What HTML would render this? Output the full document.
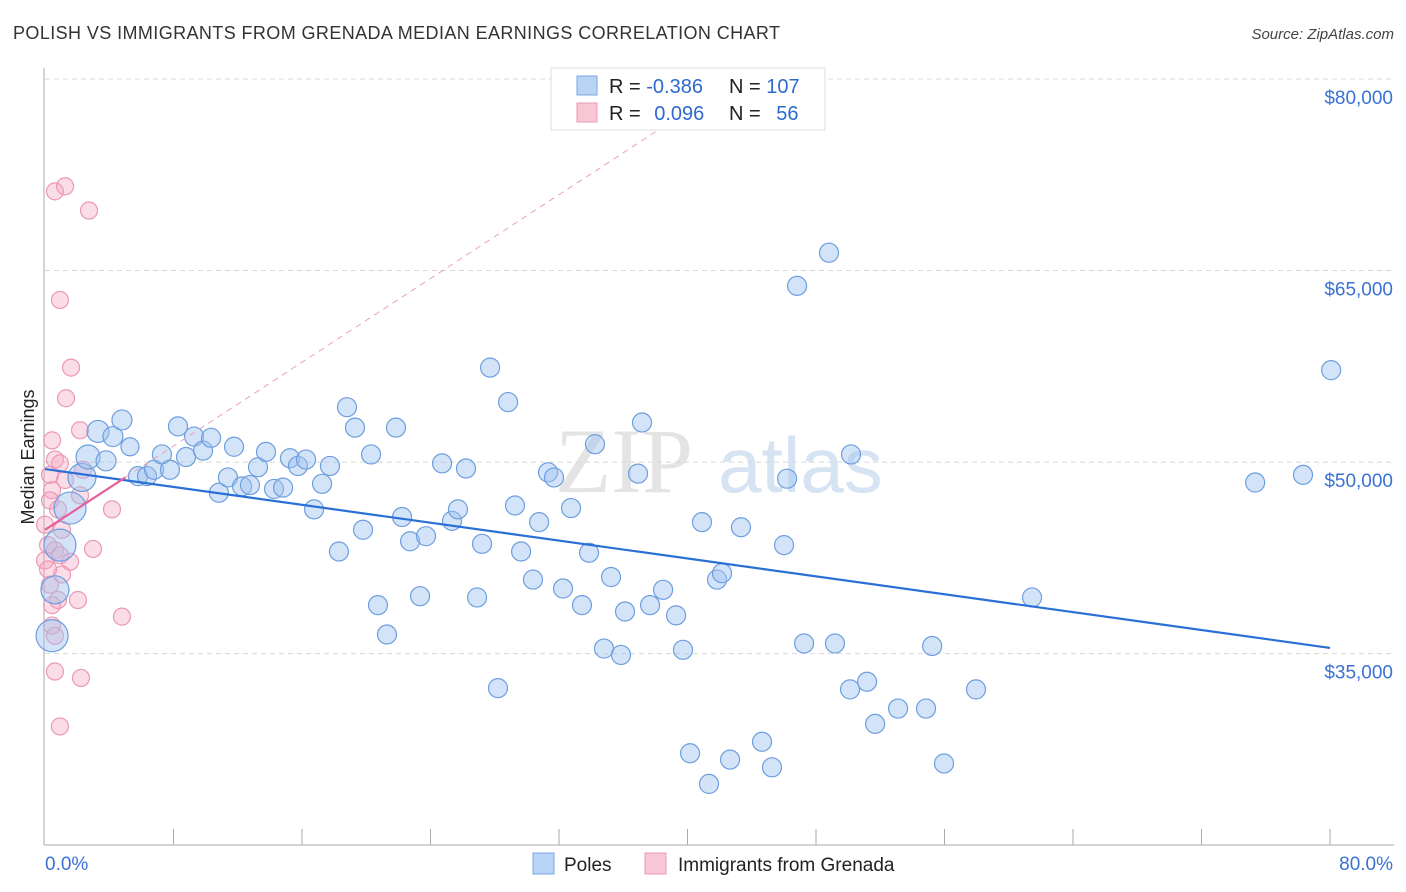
<!DOCTYPE html>
<html><head><meta charset="utf-8">
<style>
body{margin:0;background:#fff;font-family:"Liberation Sans",sans-serif;}
svg{display:block}
</style></head>
<body>
<svg id="chart" width="1406" height="892" xmlns="http://www.w3.org/2000/svg">
<text x="13" y="39" font-size="18" fill="#333" textLength="767">POLISH VS IMMIGRANTS FROM GRENADA MEDIAN EARNINGS CORRELATION CHART</text>
<text x="1394" y="39" font-size="15" font-style="italic" fill="#444" text-anchor="end">Source: ZipAtlas.com</text>
<text transform="translate(34,457) rotate(-90)" font-size="18" fill="#222" text-anchor="middle">Median Earnings</text>
<g>
<text x="555" y="492" font-size="92" font-family="Liberation Serif,serif" fill="#e4e4e4">ZIP</text>
<text x="718" y="492" font-size="78" fill="#d5e3f3">atlas</text>
</g>
<g id="grid"></g>
<g id="axes"></g>
<g id="pink"></g>
<g id="blue"></g>
<g id="lines"></g>
<g>
<rect x="551" y="68" width="274" height="62" fill="#fff" stroke="#ddd"/>
<rect x="577" y="76" width="20" height="19" fill="#b9d3f5" stroke="#7aa7e2"/>
<rect x="577" y="103" width="20" height="19" fill="#f9c6d6" stroke="#ec9ab5"/>
<text x="609" y="93" font-size="20" fill="#222">R = <tspan fill="#2d6ad0">-0.386</tspan></text>
<text x="729" y="93" font-size="20" fill="#222">N = <tspan fill="#2d6ad0">107</tspan></text>
<text x="609" y="120" font-size="20" fill="#222">R = <tspan fill="#2d6ad0" dx="8">0.096</tspan></text>
<text x="729" y="120" font-size="20" fill="#222">N = <tspan fill="#2d6ad0" dx="10">56</tspan></text>
</g>
<g>
<rect x="533" y="853" width="21" height="21" fill="#b9d3f5" stroke="#7aa7e2"/>
<text x="564" y="871" font-size="19" fill="#222">Poles</text>
</g>
<g>
<rect x="645" y="853" width="21" height="21" fill="#f9c6d6" stroke="#ec9ab5"/>
<text x="678" y="871" font-size="19" fill="#222">Immigrants from Grenada</text>
</g>
</svg>
<script>
const yTicks=[80000,65000,50000,35000];
const yTickLabels=["$80,000","$65,000","$50,000","$35,000"];
const xTickLabels=["0.0%","80.0%"];
const blueX=[0.44,0.62,0.93,1.56,2.30,2.68,3.30,3.80,4.23,4.79,5.29,5.79,6.35,6.79,7.28,7.78,8.28,8.78,9.28,9.84,10.34,10.83,11.39,11.77,12.27,12.76,13.26,13.76,14.26,14.82,15.25,15.75,16.25,16.75,17.25,17.74,18.30,18.80,19.30,19.80,20.30,20.73,21.29,21.85,22.23,22.73,23.35,23.72,24.72,25.34,25.71,26.21,26.90,27.21,27.71,28.20,28.83,29.26,29.64,30.38,30.76,31.32,31.69,32.25,32.75,33.43,33.87,34.24,34.80,35.24,35.86,36.11,36.92,37.17,37.67,38.48,39.29,39.72,40.16,40.90,41.34,41.84,42.15,42.65,43.33,44.64,45.26,46.01,46.20,46.82,47.26,48.81,49.18,50.12,50.18,51.18,51.68,53.11,54.85,55.23,55.97,57.96,61.45,75.34,78.32,80.07];
const blueY=[36.4,40.0,43.5,46.4,48.8,50.4,52.4,50.1,52.0,53.3,51.2,48.9,48.9,49.4,50.6,49.4,52.8,50.4,52.0,50.9,51.9,47.6,48.8,51.2,48.1,48.2,49.6,50.8,47.9,48.0,50.3,49.7,50.2,46.3,48.3,49.7,43.0,54.3,52.7,44.7,50.6,38.8,36.5,52.7,45.7,43.8,39.5,44.2,49.9,45.4,46.3,49.5,39.4,43.6,57.4,32.3,54.7,46.6,43.0,40.8,45.3,49.2,48.8,40.1,46.4,38.8,42.9,51.4,35.4,41.0,34.9,38.3,49.1,53.1,38.8,40.0,38.0,35.3,27.2,45.3,24.8,40.8,41.3,26.7,44.9,28.1,26.1,43.5,48.7,63.8,35.8,66.4,35.8,32.2,50.6,32.8,29.5,30.7,30.7,35.6,26.4,32.2,39.4,48.4,49.0,57.2];
const blueSize=[16,14,16,16,14,12,11,10,10,10,9];
const pinkX=[0.62,1.25,2.74,0.93,1.62,1.31,2.18,0.44,0.62,0.93,0.31,0.44,0,1.25,2.37,2.18,4.17,0.19,0.62,0.93,1.56,1.06,0.31,0.81,0.44,2.05,2.99,0.44,0.62,4.79,0.62,2.24,0.93,1.06,0.81,0.31,0,0.19];
const pinkY=[71.2,71.6,69.7,62.7,57.4,55.0,52.5,51.7,50.2,49.9,49.0,47.8,45.1,48.6,49.4,47.4,46.3,43.5,43.1,42.7,42.2,41.2,40.4,39.2,38.8,39.2,43.2,37.2,36.4,37.9,33.6,33.1,29.3,44.7,46.3,47.0,42.3,41.6];
const pinkTrend=[44.7,0.82];

const NS="http://www.w3.org/2000/svg";
const X0=45,X1=1330,YTOP=79,PXPER1000=12.77;
function sx(v){return X0+(v/80)*(X1-X0);}
function sy(k){return YTOP+(80-k)*PXPER1000;}
function mk(tag,attrs,parent){const e=document.createElementNS(NS,tag);for(const k in attrs)e.setAttribute(k,attrs[k]);parent.appendChild(e);return e;}
const grid=document.getElementById('grid'),axes=document.getElementById('axes');
yTicks.forEach((t,i)=>{
  const y=sy(t/1000);
  const l=mk('line',{x1:45,x2:1394,y1:y,y2:y,stroke:'#d8d8d8','stroke-dasharray':'5,4'},grid);
  
  
  const tx=mk('text',{x:1393,y:y+25,'font-size':19,fill:'#3a72d4','text-anchor':'end'},axes);
  tx.textContent=yTickLabels[i];
  
  
});
const ax=mk('line',{x1:44,x2:44,y1:68,y2:845,stroke:'#aaa'},axes);


const bx=mk('line',{x1:44,x2:1394,y1:845,y2:845,stroke:'#aaa'},axes);


for(let i=1;i<=10;i++){const x=sx(i*8);
  const t=mk('line',{x1:x,x2:x,y1:829,y2:845,stroke:'#aaa'},axes);
  
  }
const xl0=mk('text',{x:45,y:870,'font-size':19,fill:'#3a72d4'},axes);xl0.textContent=xTickLabels[0];


const xl1=mk('text',{x:1393,y:870,'font-size':19,fill:'#3a72d4','text-anchor':'end'},axes);xl1.textContent=xTickLabels[1];



const pg=document.getElementById('pink');
pinkX.forEach((v,i)=>{const c=mk('circle',{cx:sx(v),cy:sy(pinkY[i]),r:8.5,fill:'rgba(245,165,192,0.38)',stroke:'#eb98b4','stroke-width':1.2},pg);
  
  });
const bg=document.getElementById('blue');
blueX.forEach((v,i)=>{const r=blueSize[i]||9.5;const c=mk('circle',{cx:sx(v),cy:sy(blueY[i]),r:r,fill:'rgba(160,196,240,0.45)',stroke:'#6d9edf','stroke-width':1.2},bg);
  
  });

function reg(xs,ys){const n=xs.length;let mx=0,my=0;xs.forEach((x,i)=>{mx+=x;my+=ys[i];});mx/=n;my/=n;let sxy=0,sxx=0;xs.forEach((x,i)=>{sxy+=(x-mx)*(ys[i]-my);sxx+=(x-mx)*(x-mx);});const b=sxy/sxx;return [my-b*mx,b];}
const lg=document.getElementById('lines');
const [ba,bb]=reg(blueX,blueY);
const bl=mk('line',{x1:sx(0),y1:sy(ba),x2:sx(80),y2:sy(ba+bb*80),stroke:'#2a6fd6','stroke-width':2.2},lg);


const [pa,pb]=pinkTrend;
const xEnd=Math.min(80,(80-pa)/pb);
const pd=mk('line',{x1:sx(5),y1:sy(pa+pb*5),x2:sx(xEnd),y2:sy(pa+pb*xEnd),stroke:'#eaa0b9','stroke-width':1,'stroke-dasharray':'6,5'},lg);


const pl=mk('line',{x1:sx(0),y1:sy(pa),x2:sx(5),y2:sy(pa+pb*5),stroke:'#e8609a','stroke-width':2.2},lg);


</script>
</body></html>
